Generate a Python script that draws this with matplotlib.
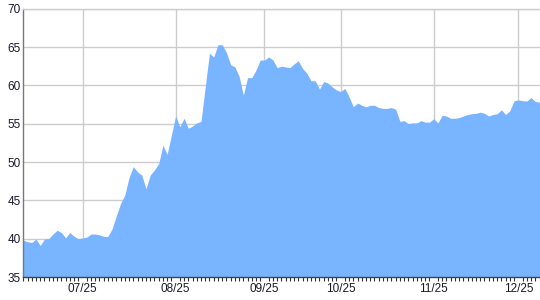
import numpy as np
import matplotlib
matplotlib.use('Agg')
import matplotlib.pyplot as plt

# daily values, one per trading day
values = [
    39.8, 39.6, 39.5, 39.95, 39.1, 39.95, 40.0, 40.6, 41.1, 40.8,
    40.1, 40.8, 40.3, 40.0, 40.1, 40.2, 40.6, 40.6, 40.5, 40.3,
    40.3, 41.3, 43.0, 44.6, 45.7, 48.0, 49.4, 48.7, 48.3, 46.5,
    48.3, 48.96, 49.8, 52.2, 51.0, 53.5, 56.0, 54.6, 55.7, 54.4,
    54.7, 55.1, 55.3, 59.8, 64.2, 63.7, 65.3, 65.3, 64.3, 62.7,
    62.4, 61.2, 58.7, 61.0, 61.0, 62.0, 63.3, 63.3, 63.7, 63.3,
    62.3, 62.5, 62.4, 62.3, 62.8, 63.2, 62.2, 61.6, 60.6, 60.6,
    59.5, 60.5, 60.3, 59.8, 59.4, 59.2, 59.6, 58.5, 57.2, 57.7,
    57.4, 57.2, 57.4, 57.4, 57.1, 57.0, 57.0, 57.1, 56.9, 55.3,
    55.4, 55.0, 55.1, 55.1, 55.4, 55.2, 55.2, 55.65, 55.1, 56.1,
    56.0, 55.7, 55.7, 55.8, 56.0, 56.2, 56.3, 56.35, 56.5, 56.35,
    56.0, 56.2, 56.3, 56.8, 56.2, 56.7, 58.0, 58.1, 58.0, 57.95,
    58.4, 57.9, 57.8,
]

# month labels sit on the first trading day of each month
tick_idx = [14, 36, 57, 75, 97, 117]
tick_labels = ['07/25', '08/25', '09/25', '10/25', '11/25', '12/25']
y_ticks = [35, 40, 45, 50, 55, 60, 65, 70]

plt.rcParams['font.family'] = ['Liberation Sans', 'DejaVu Sans']

x = np.arange(len(values))

fig = plt.figure(figsize=(5.4, 3.0), dpi=100)
ax = fig.add_axes([23.3 / 540, 23 / 300, 516.2 / 540, 268.3 / 300])

ax.fill_between(x, values, 35, color='#78b4ff', lw=0, zorder=2)

ax.set_xlim(0, len(values) - 1)
ax.set_ylim(35, 70)

ax.set_xticks(tick_idx)
ax.set_xticklabels(tick_labels)
ax.set_xticks(x, minor=True)
ax.set_yticks(y_ticks)

ax.tick_params(axis='x', which='major', length=0, pad=4, labelsize=8.5, labelcolor='#1a1a2a')
ax.tick_params(axis='x', which='minor', length=3, width=0.8, color='#333333', direction='out')
ax.tick_params(axis='y', length=0, pad=2, labelsize=8.5, labelcolor='#1a1a2a')

ax.grid(True, which='major', color='#cccccc', lw=1, zorder=1)
ax.set_axisbelow(True)

ax.spines['right'].set_visible(False)
ax.spines['top'].set_color('#cccccc')
ax.spines['left'].set_color('#777777')
ax.spines['bottom'].set_color('#444444')
for s in ax.spines.values():
    s.set_linewidth(1)

plt.savefig('out.png', dpi=100)
plt.close()
